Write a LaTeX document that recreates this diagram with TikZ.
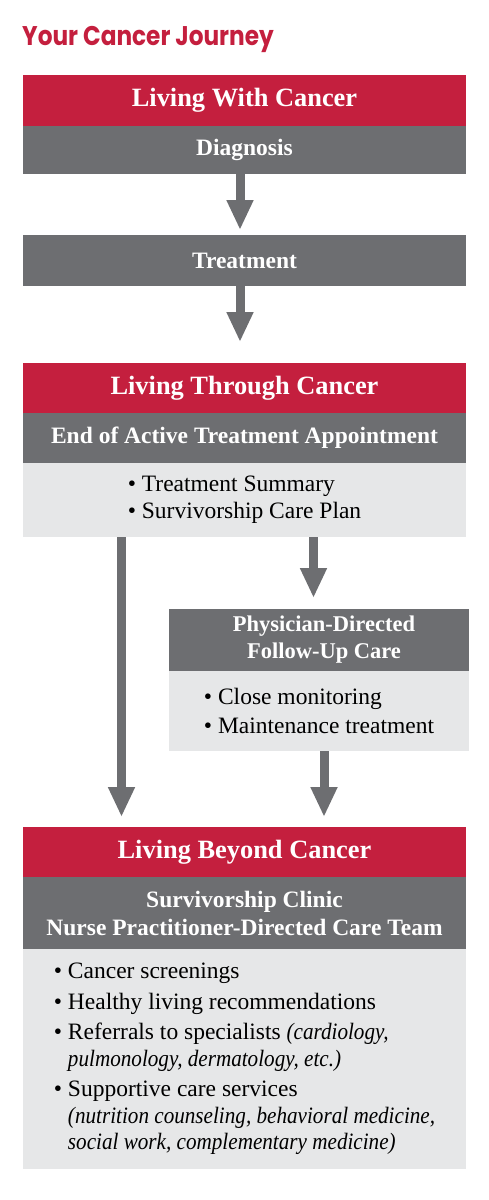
\documentclass[tikz,border=0pt]{standalone}
\usepackage{fontspec}
\setmainfont{Liberation Serif}[ItalicFeatures={FakeStretch=0.9}]
\newfontfamily\titlefont{Poppins}[FakeStretch=0.86]
\usetikzlibrary{arrows.meta}
\definecolor{cred}{HTML}{C41F3E}
\definecolor{cgray}{HTML}{6D6E71}
\definecolor{clight}{HTML}{E6E7E8}
\newcommand{\fs}[2]{\fontsize{#1}{#2}\selectfont}
\begin{document}
\begin{tikzpicture}[x=1pt,y=-1pt,
  box/.style={inner sep=0pt, outer sep=0pt, minimum width=443pt, text=white, align=center},
  hred/.style={box, fill=cred, font=\fs{26.4}{30}\bfseries},
  hgray/.style={box, fill=cgray, font=\fs{23.5}{28}\bfseries},
  blight/.style={box, fill=clight, text=black, align=left, font=\fs{23.5}{27}},
  arr/.style={draw=cgray, line width=9pt, -{Triangle[width=25pt,length=30pt]}}]
\useasboundingbox (0,0) rectangle (488,1200);
\node[anchor=base west, text=cred, font=\titlefont\fs{27}{30}\bfseries, inner sep=0pt] (title) at (22,45) {Your Cancer Journey};
\node[hred, minimum height=51pt] (r1) at (244.5,100.5) {Living With Cancer};
\node[hgray, minimum height=48pt] (g1) at (244.5,150) {Diagnosis};
\node[hgray, minimum height=51pt] (g2) at (244.5,260.5) {Treatment};
\node[hred, minimum height=50pt] (r2) at (244.5,388) {Living Through Cancer};
\node[hgray, minimum height=50pt] (g3) at (244.5,438) {End of Active Treatment Appointment};
\node[blight, minimum height=74pt] (l3) at (244.5,500) {• Treatment Summary\\• Survivorship Care Plan};
\node[hgray, minimum width=300pt, minimum height=62pt, font=\fs{22.5}{27}\bfseries] (g4) at (319,640) {\hspace*{10pt}Physician-Directed\\\hspace*{10pt}Follow-Up Care};
\node[blight, minimum width=300pt, minimum height=80pt, font=\fs{23.5}{29}] (l4) at (319,711) {• Close monitoring\\• Maintenance treatment};
\node[hred, minimum height=50pt] (r3) at (244.5,852) {Living Beyond Cancer};
\node[hgray, minimum height=72pt] (g5) at (244.5,913) {Survivorship Clinic\\Nurse Practitioner-Directed Care Team};
\node[blight, minimum height=220pt, font=\fs{23.5}{26.5}] (l5) at (244.5,1059) {• Cancer screenings\\[4pt]
• Healthy living recommendations\\[4pt]
• Referrals to specialists \textit{(cardiology,}\\
\phantom{• }\textit{pulmonology, dermatology, etc.)}\\[4pt]
• Supportive care services\\
\phantom{• }\textit{(nutrition counseling, behavioral medicine,}\\
\phantom{• }\textit{social work, complementary medicine)}};
\coordinate (a1) at (240,0);
\coordinate (aL) at (121.5,0);
\coordinate (aR) at (313.5,0);
\coordinate (aR2) at (324,0);
\draw[arr, shorten >=5pt] (g1.south -| a1) -- (g2.north -| a1);
\draw[arr, shorten >=21pt] (g2.south -| a1) -- (r2.north -| a1);
\draw[arr, shorten >=10pt] (l3.south -| aL) -- (r3.north -| aL);
\draw[arr, shorten >=11pt] (l3.south -| aR) -- (g4.north -| aR);
\draw[arr, shorten >=10pt] (l4.south -| aR2) -- (r3.north -| aR2);
\end{tikzpicture}
\end{document}
